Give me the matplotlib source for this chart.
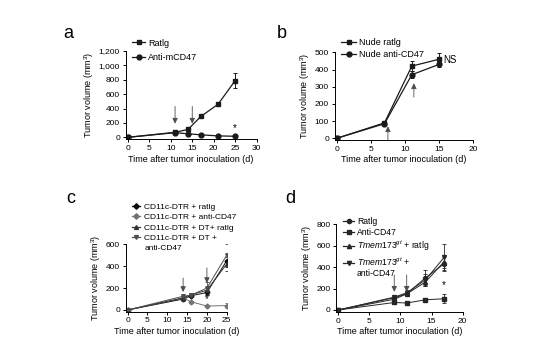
import numpy as np
import matplotlib
matplotlib.use("Agg")
import matplotlib.pyplot as plt
from matplotlib.lines import Line2D

plt.rcParams['font.family'] = ['Liberation Sans', 'DejaVu Sans']
plt.rcParams['font.size'] = 6
plt.rcParams['mathtext.fontset'] = 'custom'
plt.rcParams['mathtext.rm'] = 'Liberation Sans'
plt.rcParams['mathtext.it'] = 'Liberation Sans:italic'

# panel a
a_days = [0, 11, 14, 17, 21, 25]
a_ratig = [0, 70, 110, 290, 460, 790]
a_ratig_err = [0, 10, 15, 25, 25, 110]
a_anti = [0, 65, 50, 35, 20, 15]
a_anti_err = [0, 10, 8, 6, 5, 5]

# panel b
b_days = [0, 7, 11, 15]
b_ratig = [0, 90, 420, 460]
b_ratig_err = [0, 5, 30, 35]
b_anti = [0, 85, 370, 430]
b_anti_err = [0, 5, 20, 15]

# panel c
c_days = [0, 14, 16, 20, 25]
c_labels = ['CD11c-DTR + ratlg', 'CD11c-DTR + anti-CD47',
            'CD11c-DTR + DT+ ratlg', 'CD11c-DTR + DT +', 'anti-CD47']
c_vals = [[0, 100, 130, 160, 450],
          [0, 110, 75, 36, 40],
          [0, 110, 140, 180, 420],
          [0, 125, 135, 200, 500]]
c_errs = [[0, 15, 15, 25, 60],
          [0, 15, 10, 10, 25],
          [0, 15, 15, 30, 60],
          [0, 20, 20, 60, 100]]

# panel d
d_days = [0, 9, 11, 14, 17]
d_labels = ['Ratlg', 'Anti-CD47', r'$\it{Tmem173}^{gt}$ + ratlg',
            r'$\it{Tmem173}^{gt}$ +', 'anti-CD47']
d_vals = [[0, 115, 150, 300, 430],
          [0, 70, 65, 95, 105],
          [0, 100, 150, 260, 450],
          [0, 120, 160, 280, 490]]
d_errs = [[0, 15, 20, 70, 60],
          [0, 10, 8, 15, 40],
          [0, 15, 20, 40, 60],
          [0, 20, 30, 60, 130]]

fig = plt.figure(figsize=(5.38, 3.6), dpi=100)

def style(ax):
    for s in ['top', 'right']:
        ax.spines[s].set_visible(False)
    for s in ['left', 'bottom']:
        ax.spines[s].set_linewidth(0.7)
    ax.tick_params(width=0.7, length=2.5, pad=1.5, labelsize=6)
    ax.set_xlabel('Time after tumor inoculation (d)', fontsize=6.5, labelpad=2)
    ax.set_ylabel('Tumor volume (mm$^3$)', fontsize=6.5, labelpad=2)

def arrow(ax, x, y0, y1, color='0.3'):
    ax.annotate('', xy=(x, y1), xytext=(x, y0),
                arrowprops=dict(arrowstyle='-|>', color=color, lw=0.6,
                                mutation_scale=8, shrinkA=0, shrinkB=0))

def handles(markers, colors, ms):
    return [Line2D([], [], color=c, marker=m, lw=0.9, ms=ms) for m, c in zip(markers, colors)]

blank = Line2D([], [], lw=0, marker=None)

lk = dict(lw=0.9, ms=3.5, capsize=1.5, elinewidth=0.7, capthick=0.7)
lg = dict(loc='upper left', frameon=False, borderpad=0, borderaxespad=0)

# a
ax = fig.add_axes([0.2335, 0.6125, 0.2437, 0.2458])
ax.errorbar(a_days, a_ratig, yerr=a_ratig_err, color='0.1', marker='s', **lk)
ax.errorbar(a_days, a_anti, yerr=a_anti_err, color='0.1', marker='o', **lk)
ax.set_xlim(-0.5, 30)
ax.set_ylim(-30, 1200)
ax.set_xticks(range(0, 31, 5))
ax.set_yticks(range(0, 1201, 200))
ax.set_yticklabels(['0', '200', '400', '600', '800', '1,000', '1,200'])
arrow(ax, 11, 430, 190)
arrow(ax, 15, 430, 190)
ax.text(25, 125, '*', ha='center', va='center', fontsize=7)
style(ax)
ax.legend(handles(['s', 'o'], ['0.1', '0.1'], 3.5), ['Ratlg', 'Anti-mCD47'],
          bbox_to_anchor=(0.246, 0.893), bbox_transform=fig.transFigure,
          fontsize=6.5, handlelength=1.45, handletextpad=0.33, labelspacing=0.65, **lg)
fig.text(0.118, 0.895, 'a', fontsize=13)

# b
ax = fig.add_axes([0.622, 0.611, 0.2577, 0.2436])
ax.errorbar(b_days, b_ratig, yerr=b_ratig_err, color='0.1', marker='s', **lk)
ax.errorbar(b_days, b_anti, yerr=b_anti_err, color='0.1', marker='o', **lk)
ax.set_xlim(-0.3, 20)
ax.set_ylim(-10, 500)
ax.set_xticks(range(0, 21, 5))
ax.set_yticks(range(0, 501, 100))
arrow(ax, 7.5, -10, 70)
arrow(ax, 11.3, 240, 320)
ax.text(15.6, 455, 'NS', fontsize=7, va='center')
style(ax)
ax.legend(handles(['s', 'o'], ['0.1', '0.1'], 3.5), ['Nude ratlg', 'Nude anti-CD47'],
          bbox_to_anchor=(0.634, 0.894), bbox_transform=fig.transFigure,
          fontsize=6.5, handlelength=1.7, handletextpad=0.33, labelspacing=0.35, **lg)
fig.text(0.515, 0.895, 'b', fontsize=13)

# c
ax = fig.add_axes([0.2336, 0.1344, 0.1878, 0.187])
c_markers = ['D', 'D', '^', 'v']
c_colors = ['0.05', '0.45', '0.2', '0.3']
for v, e, m, col in zip(c_vals, c_errs, c_markers, c_colors):
    ax.errorbar(c_days, v, yerr=e, color=col, marker=m,
                lw=0.7, ms=2.5, capsize=1.5, elinewidth=0.6, capthick=0.6)
ax.set_xlim(-0.5, 25)
ax.set_ylim(-15, 600)
ax.set_xticks(range(0, 26, 5))
ax.set_yticks(range(0, 601, 200))
arrow(ax, 14, 292, 164)
arrow(ax, 20, 384, 246)
ax.text(20, 100, '*', ha='center', va='center', fontsize=7)
style(ax)
ax.legend(handles(c_markers, c_colors, 2.8) + [blank], c_labels,
          bbox_to_anchor=(0.245, 0.436), bbox_transform=fig.transFigure,
          fontsize=6, handlelength=1.0, handletextpad=0.5, labelspacing=0.3, **lg)
fig.text(0.123, 0.435, 'c', fontsize=13)

# d
ax = fig.add_axes([0.6253, 0.133, 0.2347, 0.244])
d_markers = ['o', 's', '^', 'v']
for v, e, m in zip(d_vals, d_errs, d_markers):
    ax.errorbar(d_days, v, yerr=e, color='0.15', marker=m,
                lw=0.7, ms=2.8, capsize=1.5, elinewidth=0.6, capthick=0.6)
ax.set_xlim(-0.3, 20)
ax.set_ylim(-20, 800)
ax.set_xticks(range(0, 21, 5))
ax.set_yticks(range(0, 801, 200))
arrow(ax, 9, 327, 170)
arrow(ax, 11, 327, 170)
ax.text(17, 235, '*', ha='center', va='center', fontsize=7)
style(ax)
ax.legend(handles(d_markers, ['0.15'] * 4, 3) + [blank], d_labels,
          bbox_to_anchor=(0.6375, 0.397), bbox_transform=fig.transFigure,
          fontsize=6.2, handlelength=1.3, handletextpad=0.3, labelspacing=0.22, **lg)
fig.text(0.53, 0.435, 'd', fontsize=13)

fig.savefig('out.png', dpi=100)
